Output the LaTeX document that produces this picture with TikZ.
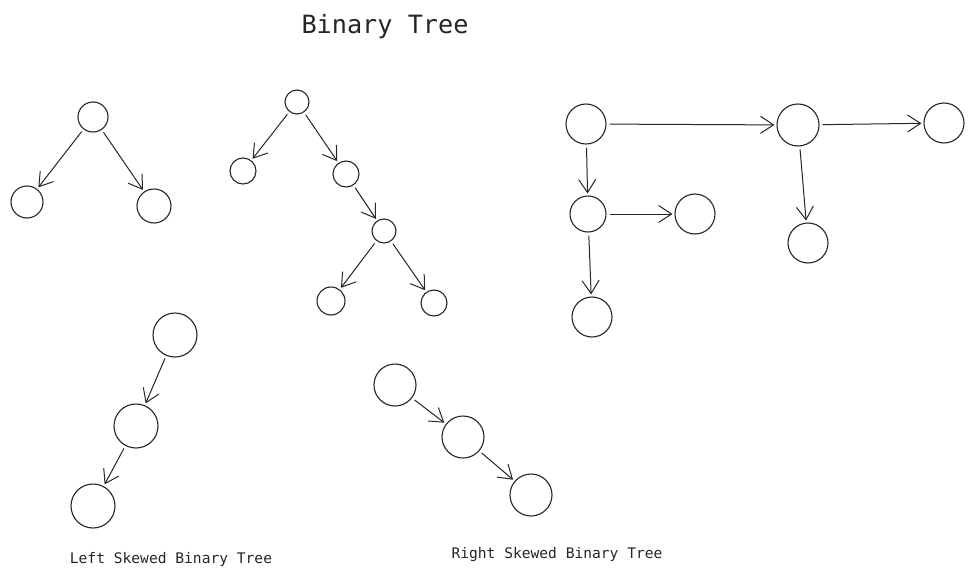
\documentclass[tikz,border=0pt]{standalone}
\usepackage{fontspec}
\setmonofont{DejaVu Sans Mono}
\usetikzlibrary{arrows.meta}
\begin{document}
\begin{tikzpicture}[x=1pt,y=-1pt,
  nd/.style={circle,draw=black!85,line width=1.1pt,inner sep=0pt},
  conn/.style={draw=black!85,line width=1pt,-{Straight Barb[length=13pt,width=17pt,line width=1pt]},shorten >=2pt,shorten <=3pt},
  lbl/.style={font=\ttfamily\fontsize{14.6}{16}\selectfont,text=black!85,inner sep=0pt},
  ttl/.style={font=\ttfamily\fontsize{25.2}{28}\selectfont,text=black!85,inner sep=0pt}]
\useasboundingbox[fill=white] (0,0) rectangle (974,578);
\node[ttl] (title) at (385,27) {Binary Tree};
% tree 1
\node[nd,minimum size=30pt] (a1) at (93,117) {};
\node[nd,minimum size=32pt] (a2) at (27,202) {};
\node[nd,minimum size=34pt] (a3) at (154,206) {};
\draw[conn] (a1) -- (a2);
\draw[conn] (a1) -- (a3);
% tree 2
\node[nd,minimum size=24pt] (b1) at (297,102) {};
\node[nd,minimum size=26pt] (b2) at (243,171) {};
\node[nd,minimum size=26pt] (b3) at (346,174) {};
\node[nd,minimum size=24pt] (b4) at (384,231) {};
\node[nd,minimum size=28pt] (b5) at (331,301) {};
\node[nd,minimum size=26pt] (b6) at (434,303) {};
\draw[conn] (b1) -- (b2);
\draw[conn] (b1) -- (b3);
\draw[conn] (b3) -- (b4);
\draw[conn] (b4) -- (b5);
\draw[conn] (b4) -- (b6);
% tree 3
\node[nd,minimum size=40pt] (c1) at (586,124) {};
\node[nd,minimum size=42pt] (c2) at (798,125) {};
\node[nd,minimum size=40pt] (c3) at (944,123) {};
\node[nd,minimum size=36pt] (c4) at (588,214) {};
\node[nd,minimum size=40pt] (c5) at (695,214) {};
\node[nd,minimum size=40pt] (c6) at (592,317) {};
\node[nd,minimum size=40pt] (c7) at (808,243) {};
\draw[conn] (c1) -- (c2);
\draw[conn] (c2) -- (c3);
\draw[conn] (c1) -- (c4);
\draw[conn] (c4) -- (c5);
\draw[conn] (c4) -- (c6);
\draw[conn] (c2) -- (c7);
% left skewed
\node[nd,minimum size=44pt] (d1) at (175,335) {};
\node[nd,minimum size=44pt] (d2) at (136,426) {};
\node[nd,minimum size=44pt] (d3) at (93,506) {};
\draw[conn] (d1) -- (d2);
\draw[conn] (d2) -- (d3);
\node[lbl] (dl) at (171,559) {Left Skewed Binary Tree};
% right skewed
\node[nd,minimum size=42pt] (e1) at (395,385) {};
\node[nd,minimum size=42pt] (e2) at (463,437) {};
\node[nd,minimum size=42pt] (e3) at (531,495) {};
\draw[conn] (e1) -- (e2);
\draw[conn] (e2) -- (e3);
\node[lbl] (el) at (557,555) {Right Skewed Binary Tree};
\end{tikzpicture}
\end{document}
